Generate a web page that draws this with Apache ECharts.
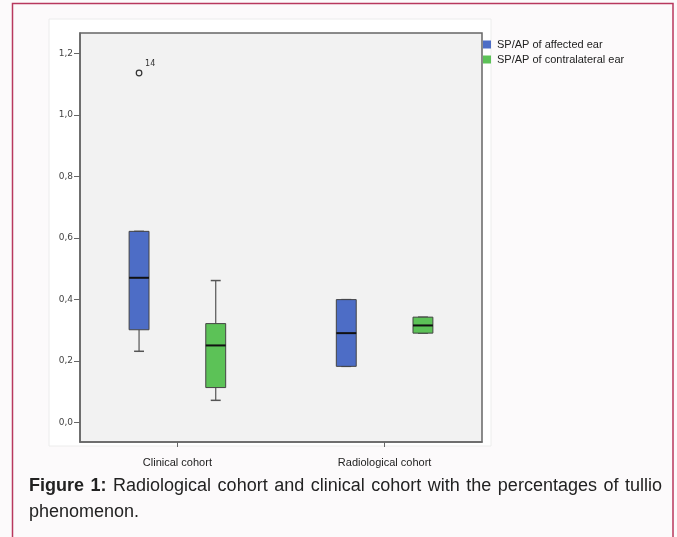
<!DOCTYPE html>
<html>
<head>
<meta charset="utf-8">
<script src="https://cdn.jsdelivr.net/npm/echarts@6/dist/echarts.min.js"></script>
<style>
  html, body { margin: 0; padding: 0; background: #fcfafb; }
  #wrap { position: relative; width: 677px; height: 537px; overflow: hidden; }
  #chart { width: 677px; height: 537px; }
  #caption {
    position: absolute; left: 29px; top: 472px; width: 633px;
    font: 18px/26px "Liberation Sans", Arial, sans-serif; color: #222;
    text-align: justify; text-align-last: left;
  }
</style>
</head>
<body>
<div id="wrap">
  <div id="chart"></div>
  <div id="caption"><b>Figure 1:</b> Radiological cohort and clinical cohort with the percentages of tullio phenomenon.</div>
</div>
<script>
// ---- data ----
const categories = ['Clinical cohort', 'Radiological cohort'];
const seriesNames = ['SP/AP of affected ear', 'SP/AP of contralateral ear'];
// [lower whisker, Q1, median, Q3, upper whisker]
const affected = [
  [0.232, 0.302, 0.471, 0.622, 0.622],
  [0.183, 0.183, 0.291, 0.400, 0.400]
];
const contralateral = [
  [0.0725, 0.114, 0.251, 0.322, 0.462],
  [0.291, 0.291, 0.316, 0.343, 0.343]
];
// outliers of affected ear: [category index, value, case label]
const affectedOutliers = [[0, 1.137, '14']];
const yTicks = [0, 0.2, 0.4, 0.6, 0.8, 1.0, 1.2];
const yTickLabels = ['0,0', '0,2', '0,4', '0,6', '0,8', '1,0', '1,2'];
const xTicks = [0, 1];

const colors = ['#4d6dc6', '#5cc257'];
const offsets = [-0.185, 0.185];   // in category units
const boxW = 0.096;                // in category units

function makeRender(sIdx) {
  return function (params, api) {
    const cat = api.value(0);
    const unit = api.size([1, 0])[0];
    const base = api.coord([cat, 0]);
    const cx = base[0] + offsets[sIdx] * unit;
    const w = unit * boxW;
    const y = i => api.coord([cat, api.value(i)])[1];
    const lw = y(1), q1 = y(2), med = y(3), q3 = y(4), uw = y(5);
    const stroke = '#555';
    return {
      type: 'group',
      children: [
        { type: 'line', shape: { x1: cx, y1: uw, x2: cx, y2: q3 }, style: { stroke: stroke, lineWidth: 1.2 } },
        { type: 'line', shape: { x1: cx, y1: lw, x2: cx, y2: q1 }, style: { stroke: stroke, lineWidth: 1.2 } },
        { type: 'line', shape: { x1: cx - w / 4, y1: uw, x2: cx + w / 4, y2: uw }, style: { stroke: stroke, lineWidth: 1.5 } },
        { type: 'line', shape: { x1: cx - w / 4, y1: lw, x2: cx + w / 4, y2: lw }, style: { stroke: stroke, lineWidth: 1.5 } },
        { type: 'rect', shape: { x: cx - w / 2, y: q3, width: w, height: q1 - q3 },
          style: { fill: colors[sIdx], stroke: '#444', lineWidth: 1 } },
        { type: 'line', shape: { x1: cx - w / 2, y1: med, x2: cx + w / 2, y2: med }, style: { stroke: '#111', lineWidth: 2 } }
      ]
    };
  };
}

function renderOutlier(params, api) {
  const cat = api.value(0);
  const unit = api.size([1, 0])[0];
  const p = api.coord([cat, api.value(1)]);
  const cx = p[0] + offsets[0] * unit;
  return {
    type: 'group',
    children: [
      { type: 'circle', shape: { cx: cx, cy: p[1], r: 2.8 }, style: { fill: 'none', stroke: '#333', lineWidth: 1.2 } },
      { type: 'text', x: cx + 6, y: p[1] - 13,
        style: { text: affectedOutliers[params.dataIndex][2], fill: '#333', font: '8px "DejaVu Sans"' } }
    ]
  };
}

const chart = echarts.init(document.getElementById('chart'), null, { renderer: 'canvas' });
chart.setOption({
  animation: false,
  backgroundColor: '#fcfafb',
  graphic: [
    { type: 'rect', z: -10, shape: { x: 49, y: 19, width: 442, height: 427 },
      style: { fill: '#ffffff', stroke: '#ececec', lineWidth: 1 } },
    { type: 'polyline', z: 10, shape: { points: [[12.5, 540], [12.5, 3.5], [673, 3.5], [673, 540]] },
      style: { fill: 'none', stroke: '#b8385e', lineWidth: 1.5 } }
  ],
  legend: {
    data: seriesNames,
    orient: 'vertical', left: 483, top: 39, padding: 0,
    itemWidth: 8, itemHeight: 8, itemGap: 4,
    icon: 'rect',
    textStyle: { fontSize: 11, color: '#222', fontFamily: 'Liberation Sans', padding: [0, 0, 0, 1] }
  },
  grid: {
    left: 80, top: 33, width: 402, height: 409,
    show: true, backgroundColor: '#f2f2f2', borderColor: '#666', borderWidth: 1.5
  },
  xAxis: {
    type: 'value', min: -0.47, max: 1.47,
    axisLine: { onZero: false, lineStyle: { color: '#666', width: 1.5 } },
    axisTick: { show: true, length: 5, customValues: xTicks, lineStyle: { color: '#666' } },
    axisLabel: { margin: 15, fontSize: 11, color: '#222', fontFamily: 'Liberation Sans',
      customValues: xTicks, formatter: v => categories[Math.round(v)] || '' },
    splitLine: { show: false }
  },
  yAxis: {
    type: 'value', min: -0.063, max: 1.267,
    axisLine: { show: true, onZero: false, lineStyle: { color: '#666', width: 1.5 } },
    axisTick: { show: true, length: 6, customValues: yTicks, lineStyle: { color: '#666' } },
    axisLabel: { margin: 7, fontSize: 9, color: '#444', fontFamily: 'DejaVu Sans',
      customValues: yTicks,
      formatter: v => { const i = yTicks.findIndex(t => Math.abs(t - v) < 1e-6); return i >= 0 ? yTickLabels[i] : ''; } },
    splitLine: { show: false }
  },
  series: [
    { name: seriesNames[0], type: 'custom', renderItem: makeRender(0), itemStyle: { color: colors[0] },
      encode: { x: 0, y: [1, 2, 3, 4, 5] },
      data: affected.map((d, i) => [i].concat(d)) },
    { name: seriesNames[1], type: 'custom', renderItem: makeRender(1), itemStyle: { color: colors[1] },
      encode: { x: 0, y: [1, 2, 3, 4, 5] },
      data: contralateral.map((d, i) => [i].concat(d)) },
    { name: seriesNames[0], type: 'custom', renderItem: renderOutlier, itemStyle: { color: colors[0] },
      encode: { x: 0, y: 1 },
      data: affectedOutliers.map(o => [o[0], o[1]]) }
  ]
});
</script>
</body>
</html>
